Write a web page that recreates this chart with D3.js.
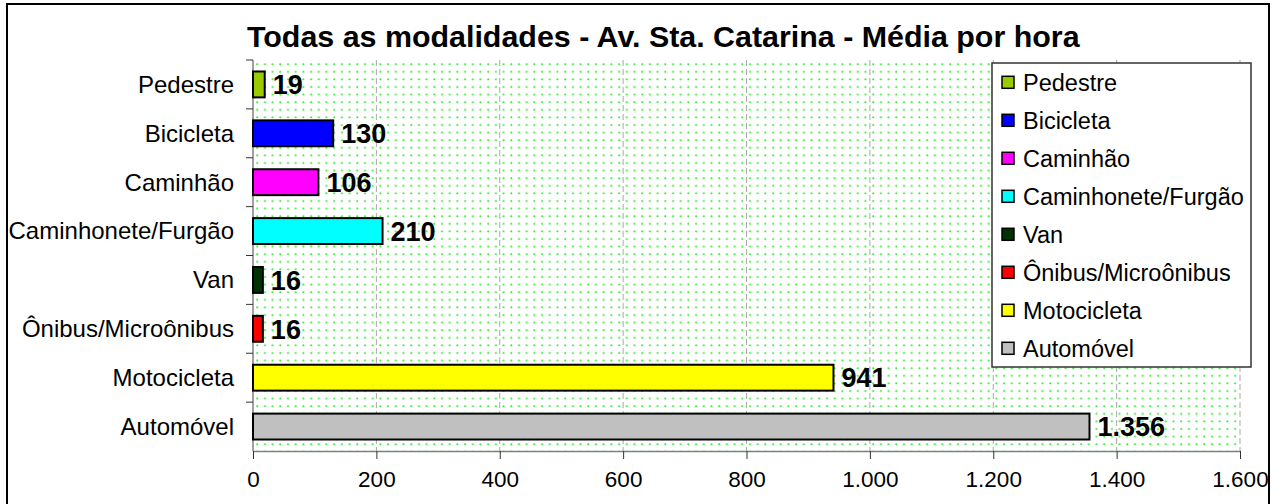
<!DOCTYPE html>
<html>
<head>
<meta charset="utf-8">
<script src="https://cdn.jsdelivr.net/npm/d3@7"></script>
<style>
	body { margin: 0; background: #fff; }
	svg text { font-family: "Liberation Sans", Arial, sans-serif; }
</style>
</head>
<body>
<div class="container"></div>
<script>
var categories = ['Pedestre', 'Bicicleta', 'Caminhão', 'Caminhonete/Furgão', 'Van', 'Ônibus/Microônibus', 'Motocicleta', 'Automóvel'];
var values = [19, 130, 106, 210, 16, 16, 941, 1356];
var colors = ['#99cc00', '#0000ff', '#ff00ff', '#00ffff', '#003300', '#ff0000', '#ffff00', '#c0c0c0'];
var xTicks = [0, 200, 400, 600, 800, 1000, 1200, 1400, 1600];
var title = 'Todas as modalidades - Av. Sta. Catarina - Média por hora';

var fmt = function(v) { return d3.format(',')(v).replace(/,/g, '.'); };

var plot = { left: 253, right: 1240, top: 60, bottom: 451 };

var svg = d3.select('.container')
	.append('svg')
	.attr('width', 1273)
	.attr('height', 504);

// dotted pattern for the plot background
var defs = svg.append('defs');
var pat = defs.append('pattern')
	.attr('id', 'dots')
	.attr('patternUnits', 'userSpaceOnUse')
	.attr('x', plot.left + 3)
	.attr('y', plot.top + 3)
	.attr('width', 7.7)
	.attr('height', 7.6);
pat.append('rect').attr('width', 7.7).attr('height', 7.6).attr('fill', '#fff');
pat.append('circle').attr('cx', 1.2).attr('cy', 1.2).attr('r', 1.05).attr('fill', '#22ee22');

svg.append('rect')
	.attr('x', 7).attr('y', 4)
	.attr('width', 1262).attr('height', 520)
	.attr('fill', '#fff')
	.attr('stroke', '#000')
	.attr('stroke-width', 2);

var x = d3.scaleLinear().domain([0, 1600]).range([plot.left, plot.right]);
var y = d3.scaleBand().domain(categories).range([plot.top, plot.bottom]).paddingInner(0.47).paddingOuter(0.235);
var yb = d3.scaleBand().domain(categories).range([plot.top, plot.bottom]);

svg.append('rect')
	.attr('x', plot.left).attr('y', plot.top)
	.attr('width', plot.right - plot.left).attr('height', plot.bottom - plot.top)
	.attr('fill', 'url(#dots)');

// grid lines
svg.append('g')
	.selectAll('line')
	.data(xTicks.slice(1))
	.enter()
	.append('line')
	.attr('x1', function(d) { return x(d); })
	.attr('x2', function(d) { return x(d); })
	.attr('y1', plot.top)
	.attr('y2', plot.bottom)
	.attr('stroke', '#a8a8a8')
	.attr('stroke-width', 1)
	.attr('stroke-dasharray', '6,3');

// x axis
var xAxis = svg.append('g')
	.attr('transform', 'translate(0,' + plot.bottom + ')')
	.call(d3.axisBottom(x).tickValues(xTicks).tickFormat(fmt).tickSize(8).tickSizeOuter(0));
xAxis.select('.domain').attr('stroke', '#808080').attr('stroke-width', 1.5);
xAxis.selectAll('.tick line').attr('stroke', '#333');
xAxis.selectAll('.tick text')
	.attr('y', 20)
	.attr('fill', '#000')
	.style('font-size', '22.5px')
	.style('font-family', '"Liberation Sans", Arial, sans-serif');

// y axis line and ticks at band boundaries
svg.append('line')
	.attr('x1', plot.left).attr('x2', plot.left)
	.attr('y1', plot.top).attr('y2', plot.bottom)
	.attr('stroke', '#808080').attr('stroke-width', 1.5);

svg.append('g')
	.selectAll('line')
	.data(categories)
	.enter()
	.append('line')
	.attr('x1', plot.left - 7)
	.attr('x2', plot.left)
	.attr('y1', function(d) { return yb(d); })
	.attr('y2', function(d) { return yb(d); })
	.attr('stroke', '#333');

svg.append('g')
	.selectAll('text')
	.data(categories)
	.enter()
	.append('text')
	.attr('x', 234)
	.attr('y', function(d) { return yb(d) + yb.bandwidth() / 2; })
	.attr('dy', '0.35em')
	.attr('text-anchor', 'end')
	.style('font-size', '24px')
	.text(function(d) { return d; });

// bars
svg.append('g')
	.selectAll('rect')
	.data(values)
	.enter()
	.append('rect')
	.attr('x', x(0))
	.attr('y', function(d, i) { return y(categories[i]); })
	.attr('width', function(d) { return x(d) - x(0); })
	.attr('height', y.bandwidth())
	.attr('fill', function(d, i) { return colors[i]; })
	.attr('stroke', '#000')
	.attr('stroke-width', 2);

svg.append('g')
	.selectAll('text')
	.data(values)
	.enter()
	.append('text')
	.attr('x', function(d) { return x(d) + 8; })
	.attr('y', function(d, i) { return y(categories[i]) + y.bandwidth() / 2; })
	.attr('dy', '0.36em')
	.style('font-size', '27px')
	.style('font-weight', 'bold')
	.text(fmt);

// title
svg.append('text')
	.attr('x', 247)
	.attr('y', 47)
	.style('font-size', '30.4px')
	.style('font-weight', 'bold')
	.text(title);

// legend
var legend = svg.append('g');
legend.append('rect')
	.attr('x', 992).attr('y', 63)
	.attr('width', 259).attr('height', 304)
	.attr('fill', '#fff')
	.attr('stroke', '#333')
	.attr('stroke-width', 1.5);

var items = legend.selectAll('g.item')
	.data(categories)
	.enter()
	.append('g')
	.attr('class', 'item')
	.attr('transform', function(d, i) { return 'translate(1002,' + (82.3 + i * 38) + ')'; });

items.append('rect')
	.attr('x', 0).attr('y', -6)
	.attr('width', 12).attr('height', 12)
	.attr('fill', function(d, i) { return colors[i]; })
	.attr('stroke', '#000')
	.attr('stroke-width', 1.5);

items.append('text')
	.attr('x', 21)
	.attr('dy', '0.35em')
	.style('font-size', '23.5px')
	.text(function(d) { return d; });
</script>
</body>
</html>
